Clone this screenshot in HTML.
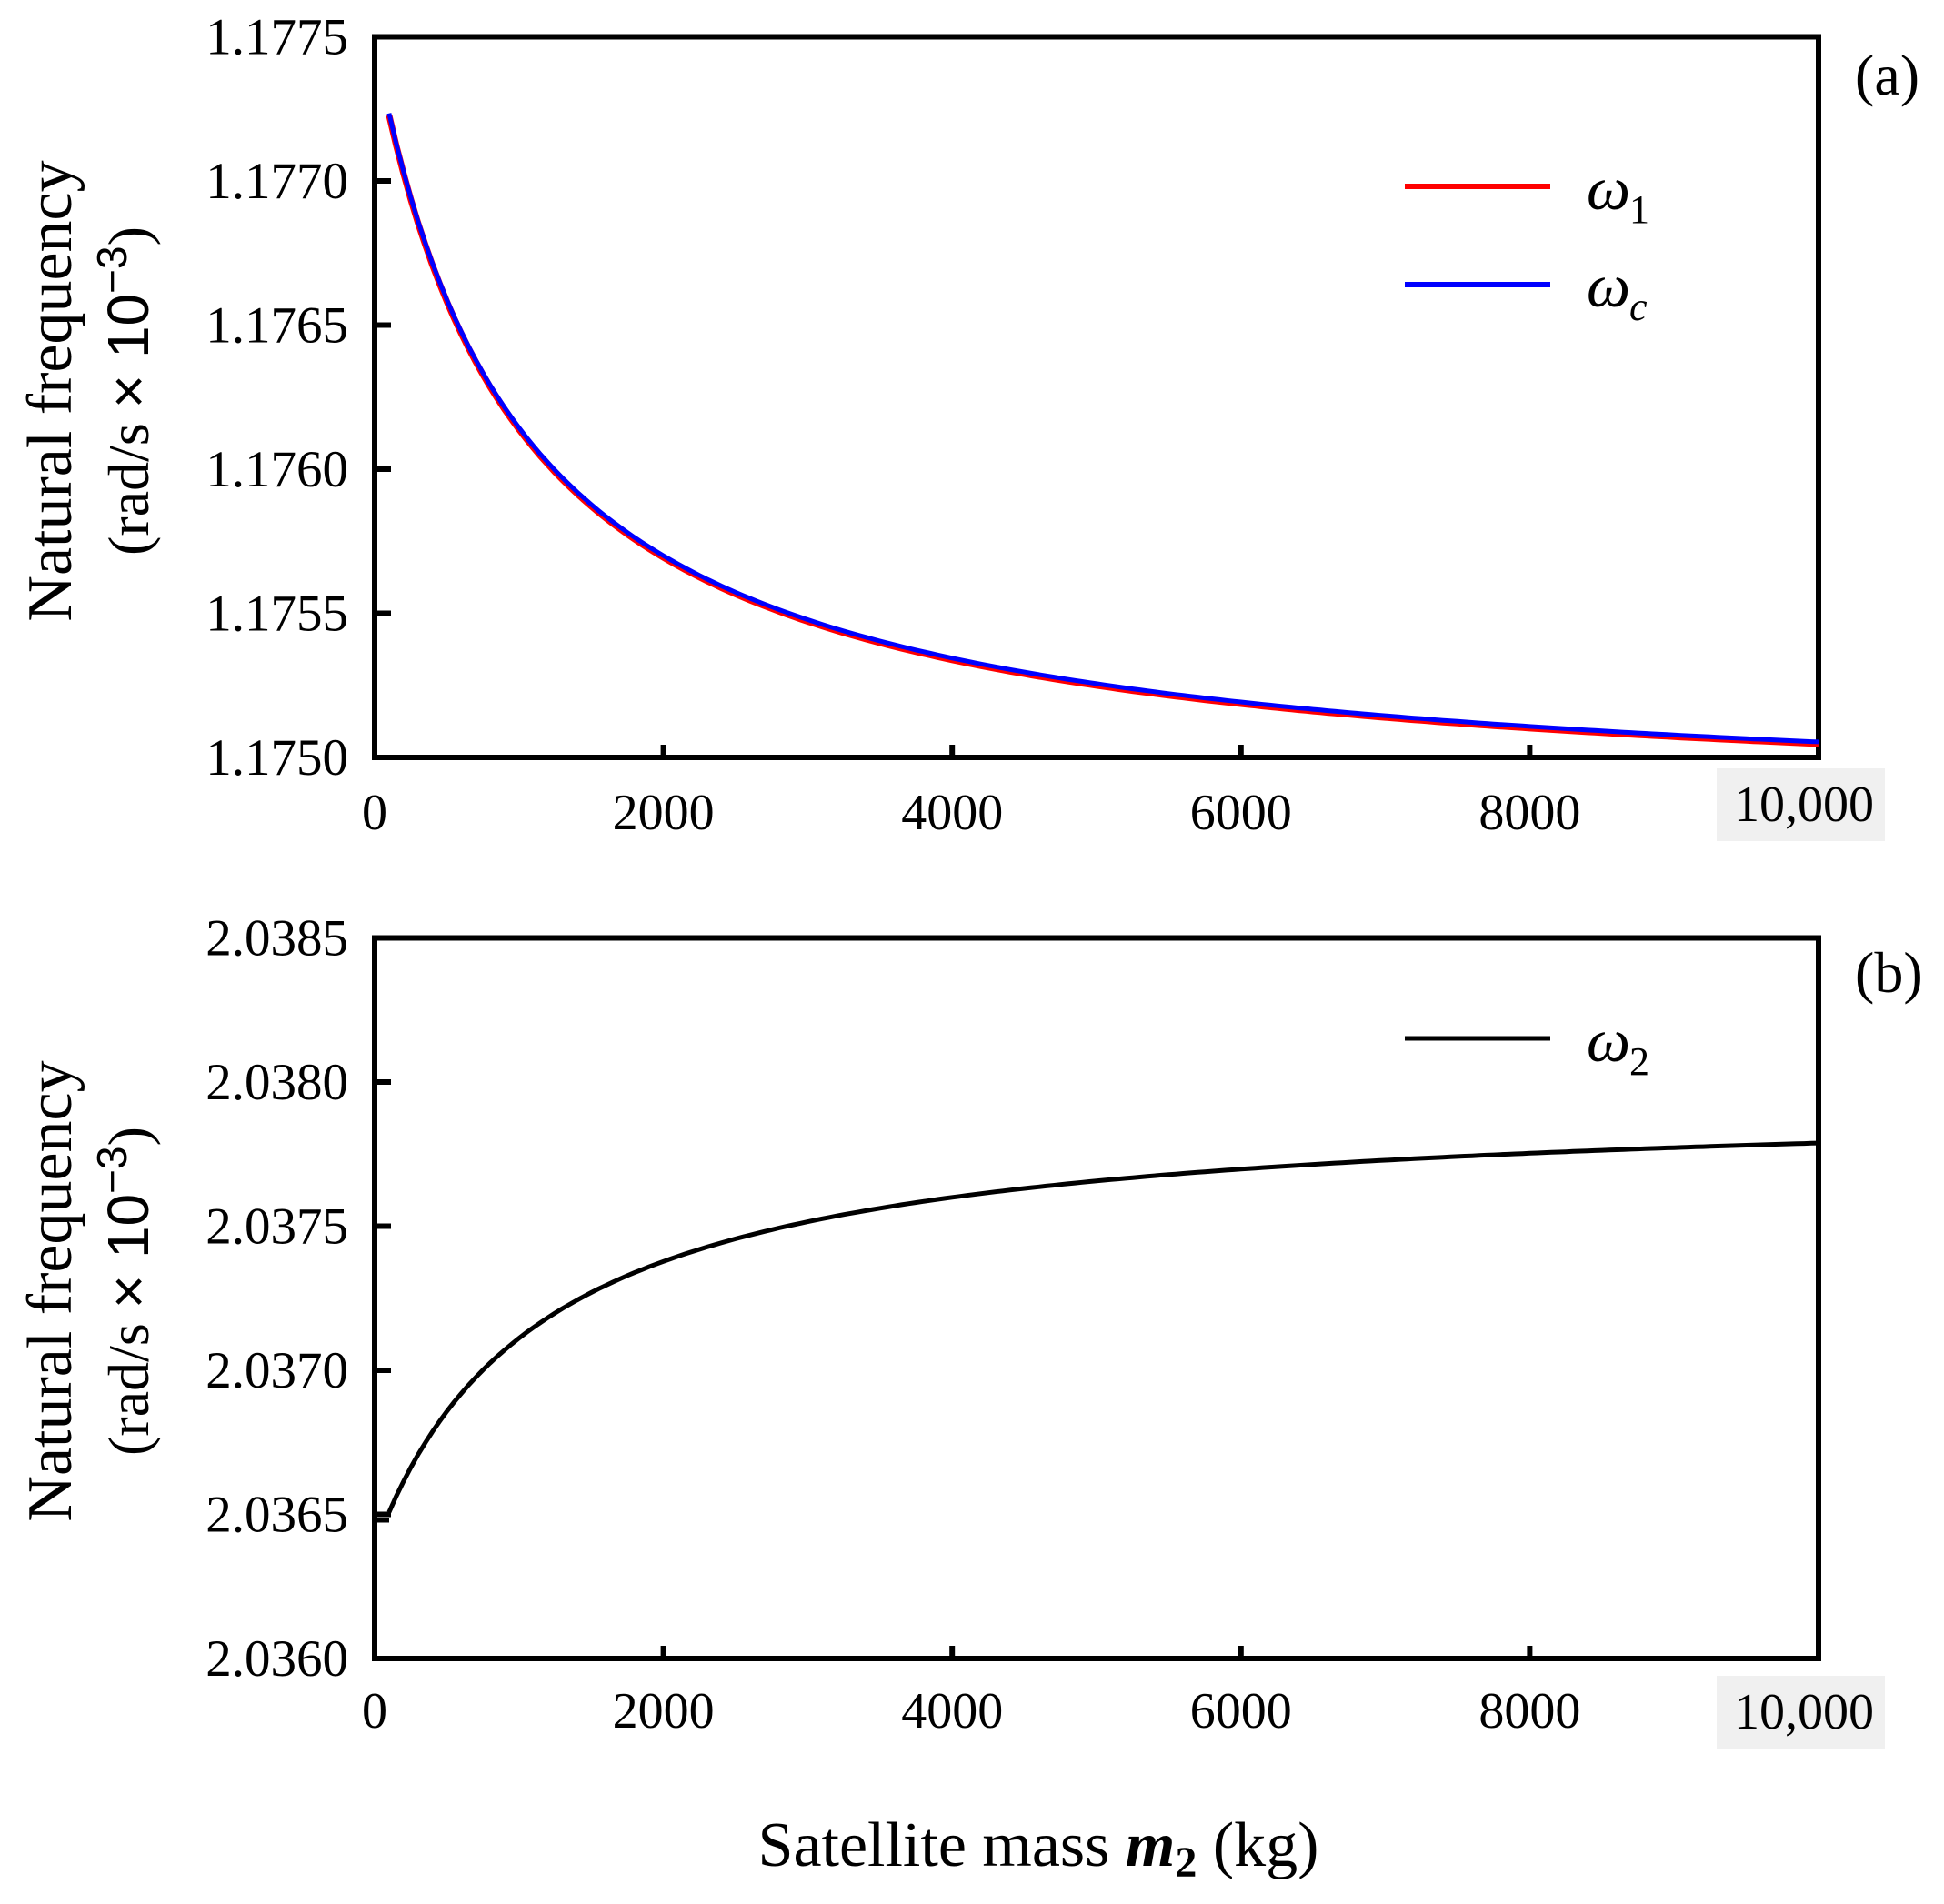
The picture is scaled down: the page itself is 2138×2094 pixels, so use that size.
<!DOCTYPE html>
<html><head><meta charset="utf-8"><style>
html,body{margin:0;padding:0;background:#fff;}
svg{display:block;}
text{font-family:"Liberation Serif",serif;fill:#000;}
</style></head><body>
<svg id="s" width="2138" height="2094" xmlns="http://www.w3.org/2000/svg">
<g id="g"></g>
</svg>
<script>
var X0=412,X1=2000;
function xm(m){return X0+(X1-X0)*m/10000;}
var out='';
function panel(top,bot,ymin,labels,label,xlabBase,boxY){
  var h=bot-top;
  for(var i=0;i<6;i++){
    var y=bot-h*i/5;
    out+='<line x1="'+X0+'" x2="'+(X0+18)+'" y1="'+y+'" y2="'+y+'" stroke="#000" stroke-width="6"/>';
    out+='<text x="383" y="'+(y+19)+'" font-size="57" text-anchor="end">'+labels[i]+'</text>';
  }
  for(var k=0;k<=5;k++){
    var x=xm(k*2000);
    if(k>0&&k<5) out+='<line x1="'+x+'" x2="'+x+'" y1="'+bot+'" y2="'+(bot-14)+'" stroke="#000" stroke-width="6"/>';
    var t=k==5?'10,000':String(k*2000);
    if(k==5){out+='<rect x="1888" y="'+boxY+'" width="185" height="80" fill="#f0f0f0"/>';
      out+='<text x="1984" y="'+(boxY+58)+'" font-size="56" text-anchor="middle">'+t+'</text>';}
    else out+='<text x="'+x+'" y="'+xlabBase+'" font-size="56" text-anchor="middle">'+t+'</text>';
  }
  out+='<rect x="'+X0+'" y="'+top+'" width="'+(X1-X0)+'" height="'+h+'" fill="none" stroke="#000" stroke-width="6"/>';
}
function path(f,top,bot,ymin,ymax,col,w,dx,dy){
  var d='';
  for(var m=100;m<=10000;m+=50){
    var v=f(m);var y=bot-(v-ymin)/(ymax-ymin)*(bot-top);
    d+=(m==100?'M':'L')+(xm(m)+dx).toFixed(1)+','+(y+dy).toFixed(1);
  }
  return '<path d="'+d+'" fill="none" stroke="'+col+'" stroke-width="'+w+'"/>';
}
var Ta=40.5,Ba=833,Tb=1031.5,Bb=1824;
panel(Ta,Ba,1.175,['1.1750','1.1755','1.1760','1.1765','1.1770','1.1775'],'',912,845);
panel(Tb,Bb,2.036,['2.0360','2.0365','2.0370','2.0375','2.0380','2.0385'],'',1900,1843);
var fa=function(m){return 1.17481+0.002665/(m+1000)*1000;};
out+=path(fa,Ta,Ba,1.175,1.1775,'#ff0000',7,0,1.5);
out+=path(fa,Ta,Ba,1.175,1.1775,'#0000ff',5,0,-0.5);
var fb=function(m){return 2.03795-0.001803/(m+1150)*1000;};
out+='<line x1="414" x2="428" y1="1672" y2="1672" stroke="#000" stroke-width="5"/>';
out+=path(fb,Tb,Bb,2.036,2.0385,'#000',5,0,0);
out+='<line x1="1545" x2="1705" y1="205" y2="205" stroke="#ff0000" stroke-width="6"/>';
out+='<line x1="1545" x2="1705" y1="313" y2="313" stroke="#0000ff" stroke-width="6"/>';
out+='<text x="1745" y="230" font-size="68" font-style="italic">ω</text><text x="1792" y="245" font-size="44">1</text>';
out+='<text x="1745" y="337" font-size="68" font-style="italic">ω</text><text x="1792" y="352" font-size="44" font-style="italic">c</text>';
out+='<line x1="1545" x2="1705" y1="1142" y2="1142" stroke="#000" stroke-width="5"/>';
out+='<text x="1745" y="1167" font-size="68" font-style="italic">ω</text><text x="1792" y="1182" font-size="44">2</text>';
out+='<text x="2040" y="104" font-size="64">(a)</text>';
out+='<text x="2040" y="1091" font-size="64">(b)</text>';
function ytitle(cy){
  out+='<text transform="translate(78,'+cy+') rotate(-90)" font-size="70" text-anchor="middle">Natural frequency</text>';
  out+='<text transform="translate(163,'+cy+') rotate(-90)" font-size="64" text-anchor="middle">(rad/s <tspan font-family="Liberation Sans,sans-serif">× 10<tspan dy="-24" font-size="46">−3</tspan></tspan><tspan dy="24">)</tspan></text>';
}
ytitle(430);ytitle(1420);
out+='<text x="1142" y="2052" font-size="70" text-anchor="middle">Satellite mass <tspan font-style="italic" font-weight="bold">m</tspan><tspan font-weight="bold" font-size="48" dy="12">2</tspan><tspan dy="-12"> (kg)</tspan></text>';
document.getElementById('g').innerHTML=out;
</script>
</body></html>
